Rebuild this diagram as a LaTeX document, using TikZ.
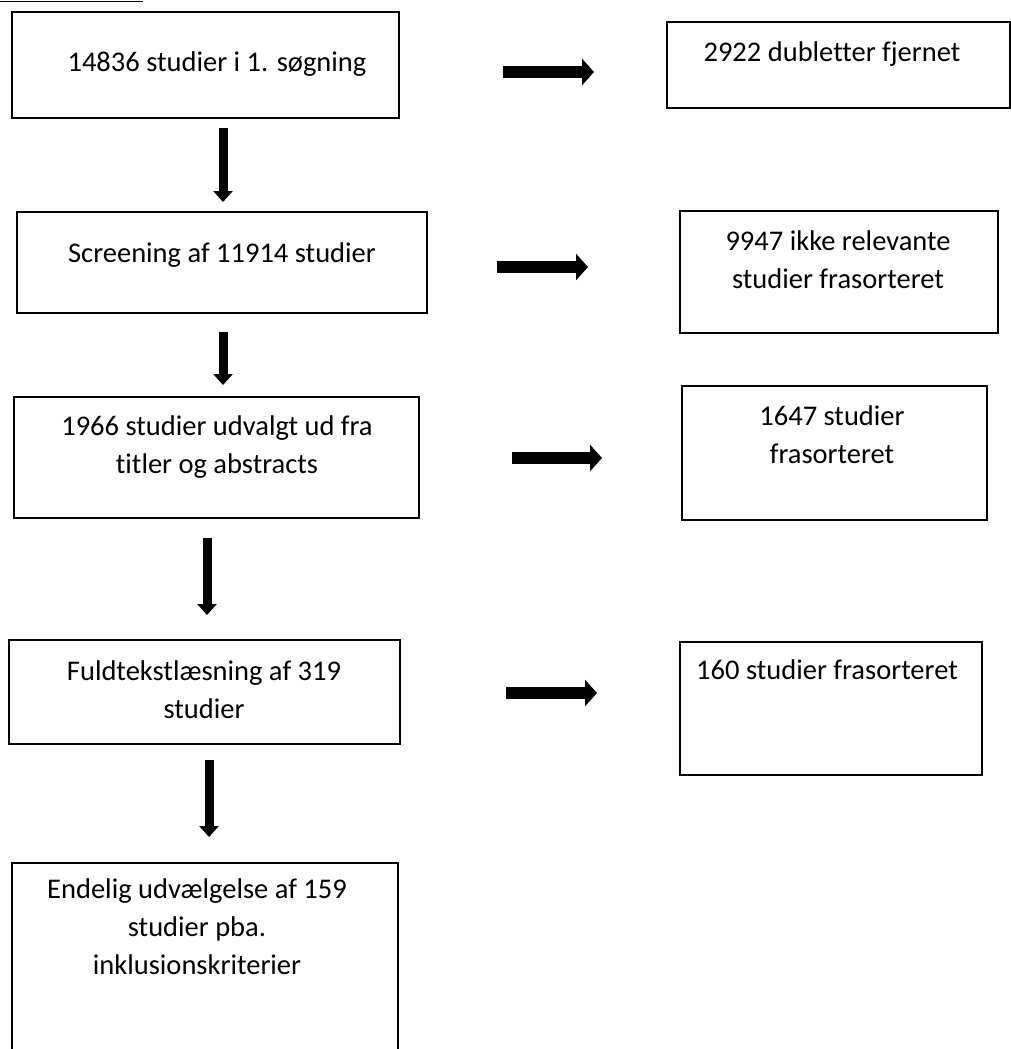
\documentclass[tikz,border=0pt]{standalone}
\usepackage{fontspec}
\setmainfont{Carlito}[Ligatures=NoCommon]
\usetikzlibrary{arrows.meta}
\begin{document}
\begin{tikzpicture}[x=1pt,y=-1pt,
  box/.style={draw=black, line width=2.2pt, inner sep=0pt, outer sep=0pt},
  lbl/.style={font=\fontsize{28.5}{38}\selectfont, align=center, anchor=base, inner sep=0pt},
  rarrow/.style={line width=12pt, -{Triangle[length=12pt,width=26pt]}},
  darrow/.style={line width=9pt, -{Triangle[length=11pt,width=19pt]}}]
\useasboundingbox (0,0) rectangle (1011,1049);
\clip (0,0) rectangle (1011,1049);
% fragment of underline at the top edge
\draw[line width=1.5pt] (0,1.5) -- (143,1.5);
% boxes
\node[box, minimum width=387pt, minimum height=106pt] (b1) at (205.5,65) {};
\node[box, minimum width=343pt, minimum height=86pt]  (b2) at (838.5,65) {};
\node[box, minimum width=410pt, minimum height=101pt] (b3) at (222,262.5) {};
\node[box, minimum width=318pt, minimum height=122pt] (b4) at (839,272) {};
\node[box, minimum width=405pt, minimum height=121pt] (b5) at (216.5,457.5) {};
\node[box, minimum width=305pt, minimum height=134pt] (b6) at (834.5,453) {};
\node[box, minimum width=391pt, minimum height=104pt] (b7) at (204.5,692) {};
\node[box, minimum width=302pt, minimum height=133pt] (b8) at (831,708.5) {};
\node[box, minimum width=386pt, minimum height=220pt] (b9) at (205,973) {};
% texts (base anchor = baseline of the last line)
\node[lbl] (t1) at (217,71) {14836 studier i 1. søgning};
\node[lbl] (t2) at (832,62) {2922 dubletter fjernet};
\node[lbl] (t3) at (222,262) {Screening af 11914 studier};
\node[lbl] (t4) at (838,288) {9947 ikke relevante\\studier frasorteret};
\node[lbl] (t5) at (217,473) {1966 studier udvalgt ud fra\\titler og abstracts};
\node[lbl] (t6) at (832,463) {1647 studier\\frasorteret};
\node[lbl] (t7) at (204,718) {Fuldtekstlæsning af 319\\studier};
\node[lbl] (t8) at (827,679) {160 studier frasorteret};
\node[lbl] (t9) at (197,974) {Endelig udvælgelse af 159\\studier pba.\\inklusionskriterier};
% arrow end points
\coordinate (r1s) at (503,72);  \coordinate (r1e) at (594,72);
\coordinate (r2s) at (497,267); \coordinate (r2e) at (588,267);
\coordinate (r3s) at (512,458); \coordinate (r3e) at (602,458);
\coordinate (r4s) at (506,693); \coordinate (r4e) at (597,693);
\coordinate (d1s) at (223,128); \coordinate (d1e) at (223,202);
\coordinate (d2s) at (223,332); \coordinate (d2e) at (223,385);
\coordinate (d3s) at (207,538); \coordinate (d3e) at (207,615);
\coordinate (d4s) at (209,760); \coordinate (d4e) at (209,837);
\draw[rarrow] (r1s) -- (r1e);
\draw[rarrow] (r2s) -- (r2e);
\draw[rarrow] (r3s) -- (r3e);
\draw[rarrow] (r4s) -- (r4e);
\draw[darrow] (d1s) -- (d1e);
\draw[darrow] (d2s) -- (d2e);
\draw[darrow] (d3s) -- (d3e);
\draw[darrow] (d4s) -- (d4e);
\end{tikzpicture}
\end{document}
